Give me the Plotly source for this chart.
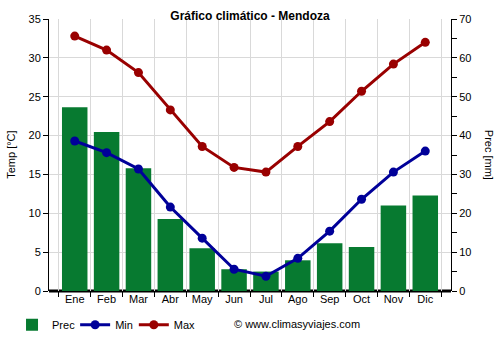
import plotly.graph_objects as go

months = ["Ene", "Feb", "Mar", "Abr", "May", "Jun", "Jul", "Ago", "Sep", "Oct", "Nov", "Dic"]
prec = [47.3, 40.9, 31.6, 18.5, 11.0, 5.6, 5.0, 7.9, 12.3, 11.3, 22.0, 24.6]
t_min = [19.3, 17.8, 15.7, 10.8, 6.8, 2.8, 1.9, 4.2, 7.7, 11.8, 15.3, 18.0]
t_max = [32.8, 31.0, 28.1, 23.3, 18.6, 15.9, 15.3, 18.6, 21.8, 25.7, 29.2, 32.0]

FONT = "Liberation Sans, Arial, sans-serif"
GREEN = "#077a30"
BLUE = "#000099"
RED = "#990000"
GRID = "#d9d9d9"

fig = go.Figure()

# Precipitation bars on the primary axis (drawn underneath the lines)
fig.add_trace(go.Bar(
    x=months, y=prec, name="Prec", marker=dict(color=GREEN, line=dict(width=0)),
    yaxis="y", hoverinfo="skip", legend="legend",
))
fig.add_trace(go.Scatter(
    x=months, y=t_min, name="Min", mode="lines+markers",
    line=dict(color=BLUE, width=3), marker=dict(color=BLUE, size=9),
    yaxis="y2", legend="legend2",
))
fig.add_trace(go.Scatter(
    x=months, y=t_max, name="Max", mode="lines+markers",
    line=dict(color=RED, width=3), marker=dict(color=RED, size=9),
    yaxis="y2", legend="legend3",
))

legend_common = dict(orientation="h", y=-0.12, yanchor="middle", xanchor="left",
                     font=dict(size=11), bgcolor="rgba(0,0,0,0)")

fig.update_layout(
    width=500, height=350,
    margin=dict(l=49, r=49, t=19, b=58),
    paper_bgcolor="white", plot_bgcolor="white",
    font=dict(family=FONT, size=11, color="#000"),
    bargap=0.2,
    showlegend=True,
    title=dict(text="<b>Gráfico climático - Mendoza</b>", x=0.5, xanchor="center",
               y=0.955, yanchor="middle", font=dict(size=12, family=FONT)),
    xaxis=dict(
        type="category", tickson="boundaries", showgrid=True, gridcolor=GRID,
        ticks="outside", ticklen=5, tickcolor="#000", showline=False,
        tickfont=dict(size=11), fixedrange=True,
    ),
    yaxis=dict(
        range=[0, 70], side="right", dtick=10, showgrid=True, gridcolor=GRID,
        ticks="outside", ticklen=5, tickcolor="#000",
        minor=dict(dtick=5, ticks="outside", ticklen=5, tickcolor="#000", showgrid=False),
        showline=True, linecolor="#000", linewidth=1, zeroline=False,
        tickfont=dict(size=11),
    ),
    yaxis2=dict(
        range=[0, 35], side="left", overlaying="y", dtick=5, showgrid=False,
        ticks="outside", ticklen=5, tickcolor="#000",
        showline=True, linecolor="#000", linewidth=1, zeroline=False,
        tickfont=dict(size=11),
    ),
    legend=dict(x=-0.092, **legend_common),
    legend2=dict(x=0.065, **legend_common),
    legend3=dict(x=0.211, **legend_common),
    shapes=[dict(
        type="line", xref="paper", yref="paper", x0=0, x1=1, y0=0, y1=0,
        line=dict(color="#000", width=3), layer="below",
    )],
    annotations=[
        dict(text="Temp [°C]", xref="paper", yref="paper", x=-0.095, y=0.5,
             xanchor="center", yanchor="middle", textangle=-90, showarrow=False,
             font=dict(size=11)),
        dict(text="Prec [mm]", xref="paper", yref="paper", x=1.095, y=0.5,
             xanchor="center", yanchor="middle", textangle=90, showarrow=False,
             font=dict(size=11)),
        dict(text="© www.climasyviajes.com", xref="paper", yref="paper",
             x=0.455, y=-0.12, xanchor="left", yanchor="middle", showarrow=False,
             font=dict(size=11)),
    ],
)

fig.write_html("out.html")
